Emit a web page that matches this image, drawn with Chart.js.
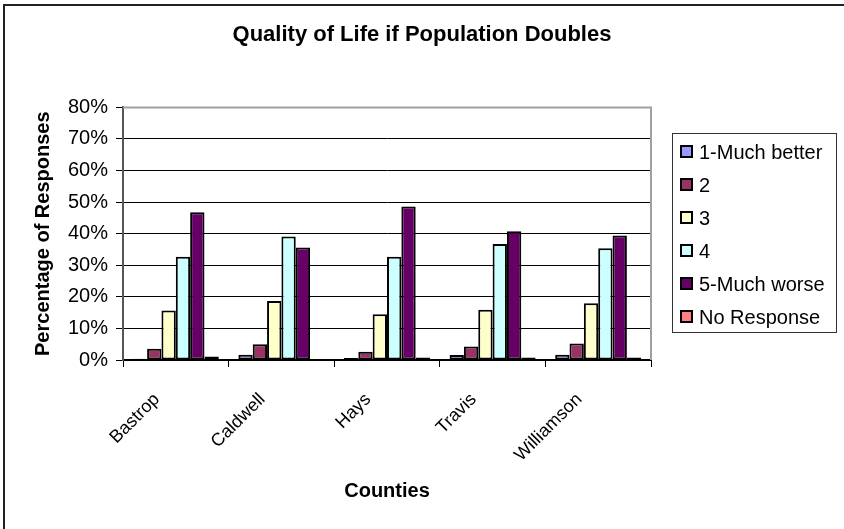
<!DOCTYPE html>
<html>
<head>
<meta charset="utf-8">
<title>Quality of Life if Population Doubles</title>
<script src="https://cdn.jsdelivr.net/npm/chart.js@4.4.0/dist/chart.umd.min.js"></script>
<style>
  html, body { margin: 0; padding: 0; background: #fff; }
  #wrap { width: 844px; height: 529px; }
</style>
</head>
<body>
<div id="wrap"><canvas id="myChart" width="844" height="529"></canvas></div>
<script>
// Survey answers per county, percent of responses
const counties = ['Bastrop', 'Caldwell', 'Hays', 'Travis', 'Williamson'];
const answerLabels = ['1-Much better', '2', '3', '4', '5-Much worse', 'No Response'];
const muchBetter = [0.4, 1.7, 0.6, 1.6, 1.7];
const answer2 = [3.6, 5.0, 2.6, 4.3, 5.2];
const answer3 = [15.7, 18.7, 14.5, 15.9, 18.0];
const answer4 = [32.7, 39.1, 32.7, 36.7, 35.4];
const muchWorse = [46.8, 35.6, 48.6, 40.8, 39.4];
const noResponse = [1.1, 0.3, 0.8, 0.8, 0.8];
const yMax = 80;
const yStep = 10;

const seriesValues = [muchBetter, answer2, answer3, answer4, muchWorse, noResponse];
const seriesColors = ['#9999FF', '#993366', '#FFFFCC', '#CCFFFF', '#660066', '#FF8080'];

const FONT = '"Liberation Sans", Arial, sans-serif';
Chart.defaults.font.family = FONT;
Chart.defaults.color = '#000';

// outer frame, grey plot border and the boxed legend
const framePlugin = {
    id: 'frame',
    beforeDraw(chart) {
        const ctx = chart.ctx;
        ctx.save();
        ctx.fillStyle = '#fff';
        ctx.fillRect(0, 0, chart.width, chart.height);
        ctx.restore();
    },
    afterDraw(chart) {
        const ctx = chart.ctx;
        const a = chart.chartArea;
        ctx.save();

        // chart border (runs off the right and bottom edge)
        ctx.strokeStyle = '#222';
        ctx.lineWidth = 2;
        ctx.strokeRect(4, 5, chart.width + 20, chart.height + 20);

        // plot area top / right edge
        ctx.strokeStyle = '#a0a0a0';
        ctx.lineWidth = 2;
        ctx.beginPath();
        ctx.moveTo(a.left, a.top);
        ctx.lineTo(a.right, a.top);
        ctx.lineTo(a.right, a.bottom);
        ctx.stroke();

        // legend
        const lx = 672, ly = 133, lw = 164, lh = 199;
        ctx.strokeStyle = '#333';
        ctx.lineWidth = 1;
        ctx.strokeRect(lx + 0.5, ly + 0.5, lw, lh);
        ctx.font = '20px ' + FONT;
        ctx.textBaseline = 'middle';
        chart.data.datasets.forEach((ds, i) => {
            const cy = ly + 19 + i * 33;
            ctx.fillStyle = ds.backgroundColor;
            ctx.fillRect(681, cy - 6, 11, 11);
            ctx.strokeStyle = '#000';
            ctx.lineWidth = 2;
            ctx.strokeRect(681, cy - 6, 11, 11);
            ctx.fillStyle = '#000';
            ctx.fillText(ds.label, 699, cy + 1);
        });
        ctx.restore();
    }
};

const ctx = document.getElementById('myChart').getContext('2d');

const data = {
    labels: counties,
    datasets: answerLabels.map((label, i) => ({
        label: label,
        data: seriesValues[i],
        backgroundColor: seriesColors[i],
        borderColor: '#000',
        borderWidth: 2,
        borderSkipped: false,
        categoryPercentage: 0.815,
        barPercentage: 1.0
    }))
};

const config = {
    type: 'bar',
    data: data,
    options: {
        responsive: false,
        animation: false,
        devicePixelRatio: 1,
        layout: { padding: 0 },
        plugins: {
            legend: { display: false },
            tooltip: { enabled: false },
            title: {
                display: true,
                text: 'Quality of Life if Population Doubles',
                color: '#000',
                font: { family: FONT, size: 22, weight: 'bold' },
                padding: { top: 22, bottom: 59 }
            }
        },
        scales: {
            x: {
                grid: {
                    offset: true,
                    drawOnChartArea: false,
                    drawTicks: true,
                    tickLength: 7,
                    tickColor: '#000'
                },
                border: { display: true, color: '#000', width: 2 },
                ticks: {
                    minRotation: 45,
                    maxRotation: 45,
                    autoSkip: false,
                    padding: 22,
                    labelOffset: -19,
                    font: { family: FONT, size: 18 },
                    color: '#000'
                },
                title: {
                    display: true,
                    text: 'Counties',
                    font: { family: FONT, size: 20, weight: 'bold' },
                    padding: { top: 0, bottom: 26 },
                    color: '#000'
                },
                afterFit(scale) { scale.height = 169; }
            },
            y: {
                min: 0,
                max: yMax,
                ticks: {
                    stepSize: yStep,
                    padding: 8,
                    font: { family: FONT, size: 20 },
                    color: '#000',
                    callback: v => v + '%'
                },
                grid: {
                    color: c => (c.tick && c.tick.value === yMax) ? 'rgba(0,0,0,0)' : '#000',
                    lineWidth: 1,
                    drawTicks: true,
                    tickLength: 7,
                    tickColor: '#000'
                },
                border: { display: true, color: '#555', width: 2 },
                title: {
                    display: true,
                    text: 'Percentage of Responses',
                    font: { family: FONT, size: 20, weight: 'bold' },
                    padding: { top: 31, bottom: 0 },
                    color: '#000'
                },
                afterFit(scale) { scale.width = 123; }
            },
            // empty box on the right that keeps room for the legend
            legendSpace: {
                type: 'linear',
                position: 'right',
                display: true,
                grid: { display: false },
                border: { display: false },
                ticks: { display: false },
                afterFit(scale) { scale.width = 193; }
            }
        }
    },
    plugins: [framePlugin]
};

const myChart = new Chart(ctx, config);
</script>
</body>
</html>
